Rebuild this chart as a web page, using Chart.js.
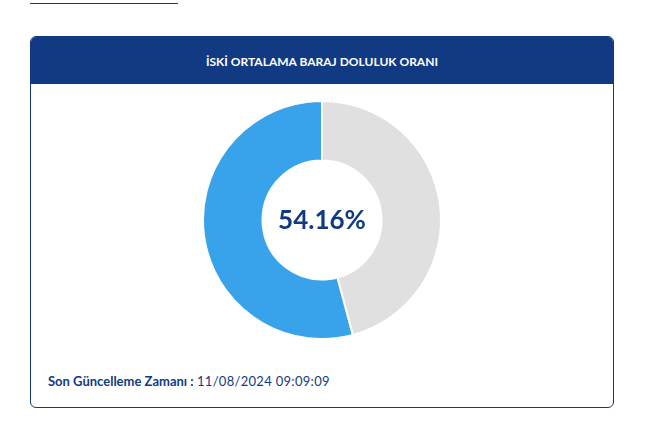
<!DOCTYPE html>
<html>
<head>
<meta charset="utf-8">
<script src="https://cdn.jsdelivr.net/npm/chart.js@4"></script>
<style>
  body { margin: 0; background: #fff; font-family: Lato, "Noto Sans", sans-serif; }
  .topline { position: absolute; left: 30px; top: 3px; width: 148px; height: 1px; background: #123a83; }
  .card { position: absolute; left: 30px; top: 36px; width: 582px; height: 370px; border: 1px solid #123a83; border-radius: 6px; overflow: hidden; }
  .card-head { height: 47px; background: #123a83; color: #fff; font-size: 12px; font-weight: 700; text-align: center; line-height: 50px; }
  .chart-box { position: absolute; left: 0; top: 63px; width: 582px; height: 240px; }
  .updated { position: absolute; left: 17px; top: 336px; font-size: 13px; color: #123a83; }
  .updated b { font-weight: 700; }
  .updated span { font-weight: 400; letter-spacing: 0.3px; }
</style>
</head>
<body>
<div class="topline"></div>
<div class="card">
  <div class="card-head">İSKİ ORTALAMA BARAJ DOLULUK ORANI</div>
  <div class="chart-box"><canvas id="doughnutChart"></canvas></div>
  <div class="updated"><b>Son Güncelleme Zamanı :</b> <span>11/08/2024 09:09:09</span></div>
</div>
<script>
// doluluk verisi (bos kisim once, saat yonunde)
const labels = ['Boş', 'Dolu'];
const values = [45.84, 54.16];
const colors = ['#e0e0e0', '#38a2ea'];
const fillRate = 54.16;

// Draw the percentage in the middle of the doughnut
const centerText = {
  id: 'centerText',
  afterDraw(chart) {
    const { ctx } = chart;
    const meta = chart.getDatasetMeta(0).data[0];
    ctx.save();
    ctx.font = '700 26px Lato, "Noto Sans", sans-serif';
    ctx.fillStyle = '#123a83';
    ctx.textAlign = 'center';
    ctx.textBaseline = 'middle';
    ctx.fillText(fillRate.toFixed(2) + '%', meta.x, meta.y + 1);
    ctx.restore();
  }
};

const ctx = document.getElementById('doughnutChart').getContext('2d');
new Chart(ctx, {
  type: 'doughnut',
  data: {
    labels: labels,
    datasets: [{
      data: values,
      backgroundColor: colors,
      borderColor: '#ffffff',
      borderWidth: 2,
      hoverOffset: 0
    }]
  },
  options: {
    responsive: true,
    maintainAspectRatio: false,
    animation: false,
    cutout: '50%',
    plugins: {
      legend: { display: false },
      tooltip: { enabled: false }
    }
  },
  plugins: [centerText]
});
</script>
</body>
</html>
